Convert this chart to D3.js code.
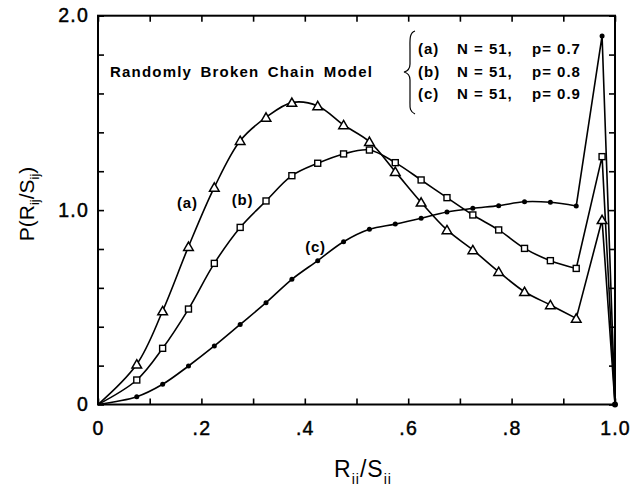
<!DOCTYPE html>
<html><head><meta charset="utf-8">
<script src="https://cdn.jsdelivr.net/npm/d3@7"></script>
<style>body{margin:0;background:#fff}svg{display:block}text{font-family:"Liberation Sans",Arial,sans-serif;fill:#000}</style>
</head><body>
<svg id="c" width="631" height="495"></svg>
<script>
const xValues = [0, 0.075, 0.125, 0.175, 0.225, 0.275, 0.325, 0.375, 0.425, 0.475, 0.525, 0.575, 0.625, 0.675, 0.725, 0.775, 0.825, 0.875, 0.925, 0.975, 1.0];
const seriesA = [0, 0.207, 0.481, 0.812, 1.117, 1.357, 1.477, 1.553, 1.536, 1.438, 1.352, 1.198, 1.040, 0.898, 0.795, 0.683, 0.580, 0.512, 0.443, 0.95, 0];
const seriesB = [0, 0.126, 0.289, 0.491, 0.726, 0.911, 1.047, 1.177, 1.241, 1.289, 1.309, 1.244, 1.155, 1.064, 0.975, 0.898, 0.803, 0.740, 0.700, 1.275, 0];
const seriesC = [0, 0.040, 0.104, 0.198, 0.301, 0.412, 0.524, 0.644, 0.740, 0.837, 0.901, 0.928, 0.958, 0.990, 1.009, 1.023, 1.043, 1.040, 1.021, 1.896, 0];
const seriesNames = ["(a)", "(b)", "(c)"];
const legendLines = [["(a)", "N = 51,", "p= 0.7"], ["(b)", "N = 51,", "p= 0.8"], ["(c)", "N = 51,", "p= 0.9"]];
const xTickLabels = [[0, "0"], [0.2, ".2"], [0.4, ".4"], [0.6, ".6"], [0.8, ".8"], [1.0, "1.0"]];
const yTickLabels = [[0, "0"], [1.0, "1.0"], [2.0, "2.0"]];
const titleText = "Randomly Broken Chain Model";

const svg = d3.select("#c");
const x = d3.scaleLinear().domain([0, 1]).range([98, 615]);
const y = d3.scaleLinear().domain([0, 2]).range([404.5, 15.7]);

// frame
svg.append("rect").attr("x", x(0)).attr("y", y(2)).attr("width", x(1) - x(0)).attr("height", y(0) - y(2))
  .attr("fill", "none").attr("stroke", "#000").attr("stroke-width", 2);

const xt = d3.range(0, 1.0001, 0.1);
const yt = d3.range(0, 2.0001, 0.2);
function tickAxis(g, axis) { g.call(axis); g.select(".domain").remove(); g.selectAll("line").attr("stroke-width", 1.6); g.selectAll("text").remove(); }
svg.append("g").attr("transform", `translate(0,${y(0)})`).call(tickAxis, d3.axisBottom(x).tickValues(xt).tickSize(-6));
svg.append("g").attr("transform", `translate(0,${y(2)})`).call(tickAxis, d3.axisTop(x).tickValues(xt).tickSize(-6));
svg.append("g").attr("transform", `translate(${x(0)},0)`).call(tickAxis, d3.axisLeft(y).tickValues(yt).tickSize(-6));
svg.append("g").attr("transform", `translate(${x(1)},0)`).call(tickAxis, d3.axisRight(y).tickValues(yt).tickSize(-6));

// tick labels
function styleLabels(g) {
  g.select(".domain").remove();
  g.selectAll("text").attr("font-size", 19.5).attr("font-family", "Liberation Sans, Arial").attr("fill", "#000")
    .attr("stroke", "#000").attr("stroke-width", 0.45).attr("letter-spacing", 1.2);
}
const xl = svg.append("g").attr("transform", `translate(0,${y(0)})`)
  .call(d3.axisBottom(x).tickValues(xTickLabels.map(d => d[0])).tickFormat((d, i) => xTickLabels[i][1]).tickSize(0).tickPadding(17));
styleLabels(xl);
const yl = svg.append("g").attr("transform", `translate(${x(0)},0)`)
  .call(d3.axisLeft(y).tickValues(yTickLabels.map(d => d[0])).tickFormat((d, i) => yTickLabels[i][1]).tickSize(0).tickPadding(9));
styleLabels(yl);

// curves
const all = [seriesA, seriesB, seriesC];
const smooth = d3.line().x(d => x(d[0])).y(d => y(d[1])).curve(d3.curveCatmullRom.alpha(0.5));
const straight = d3.line().x(d => x(d[0])).y(d => y(d[1]));
all.forEach(s => {
  const pts = xValues.map((v, i) => [v, s[i]]);
  const n = pts.length;
  svg.append("path").attr("d", smooth(pts.slice(0, n - 2))).attr("fill", "none").attr("stroke", "#000").attr("stroke-width", 1.6);
  svg.append("path").attr("d", straight(pts.slice(n - 3))).attr("fill", "none").attr("stroke", "#000").attr("stroke-width", 1.6);
});

// markers
const interior = xValues.map((v, i) => i).filter(i => xValues[i] > 0 && xValues[i] < 1);
const tri = d3.symbol().type(d3.symbolTriangle).size(40);
svg.append("g").selectAll("path").data(interior).join("path")
  .attr("transform", i => `translate(${x(xValues[i])},${y(seriesA[i]) + 1})`)
  .attr("d", tri).attr("fill", "#fff").attr("stroke", "#000").attr("stroke-width", 1.5);
svg.append("g").selectAll("rect").data(interior).join("rect")
  .attr("x", i => x(xValues[i]) - 3).attr("y", i => y(seriesB[i]) - 3).attr("width", 6).attr("height", 6)
  .attr("fill", "#fff").attr("stroke", "#000").attr("stroke-width", 1.4);
svg.append("g").selectAll("circle").data(interior).join("circle")
  .attr("cx", i => x(xValues[i])).attr("cy", i => y(seriesC[i])).attr("r", 2.5).attr("fill", "#000");
svg.append("circle").attr("cx", x(1)).attr("cy", y(0)).attr("r", 3).attr("fill", "#000");

// title
svg.append("text").attr("x", 110).attr("y", 77).attr("font-size", 15).attr("font-weight", "bold")
  .attr("letter-spacing", 1.2).attr("word-spacing", 3).text(titleText);

// series labels
const labelPos = [[0.173, 1.011], [0.2795, 1.026], [0.4207, 0.784]];
seriesNames.forEach((nm, i) => {
  svg.append("text").attr("x", x(labelPos[i][0])).attr("y", y(labelPos[i][1])).attr("text-anchor", "middle")
    .attr("font-size", 15).attr("font-weight", "bold").attr("letter-spacing", 0.8).text(nm);
});

// legend
const lg = svg.append("g");
lg.append("path").attr("d", "M415,31 C409,33 410,40 410,50 L410,64 C410,69 408,71 404,72 C408,73 410,75 410,80 L410,100 C410,107 409,111 415,114")
  .attr("fill", "none").attr("stroke", "#000").attr("stroke-width", 1.2);
const colX = [418, 457, 532];
const rowY = [54, 77, 99];
legendLines.forEach((ln, r) => {
  ln.forEach((t, c) => {
    lg.append("text").attr("x", colX[c]).attr("y", rowY[r]).attr("font-size", 15).attr("font-weight", "bold")
      .attr("letter-spacing", 1).text(t);
  });
});

// axis titles
const xt2 = svg.append("text").attr("x", 363).attr("y", 477).attr("text-anchor", "middle").attr("font-size", 23).attr("letter-spacing", 1);
xt2.append("tspan").text("R");
xt2.append("tspan").attr("font-size", 14).attr("dy", 7).text("ii");
xt2.append("tspan").attr("dy", -7).text("/S");
xt2.append("tspan").attr("font-size", 14).attr("dy", 7).text("ii");

const yt2 = svg.append("text").attr("transform", "translate(34,204) rotate(-90)").attr("text-anchor", "middle").attr("font-size", 21);
yt2.append("tspan").text("P(R");
yt2.append("tspan").attr("font-size", 13).attr("dy", 5).text("ij");
yt2.append("tspan").attr("dy", -5).text("/S");
yt2.append("tspan").attr("font-size", 13).attr("dy", 5).text("ij");
yt2.append("tspan").attr("dy", -5).text(")");
</script>
</body></html>
